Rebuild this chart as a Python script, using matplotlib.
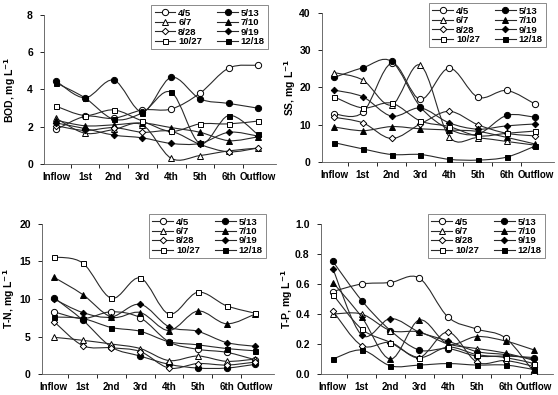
import numpy as np
import matplotlib
matplotlib.use("Agg")
import matplotlib.pyplot as plt
from matplotlib.path import Path
from matplotlib.patches import PathPatch
from matplotlib.lines import Line2D

plt.rcParams["font.family"] = ["Liberation Sans", "DejaVu Sans"]
plt.rcParams["font.weight"] = "bold"

stations = ["Inflow", "1st", "2nd", "3rd", "4th", "5th", "6th", "Outflow"]
dates = ["4/5", "5/13", "6/7", "7/10", "8/28", "9/19", "10/27", "12/18"]

bod = {
    "4/5":   [1.85, 2.55, 2.45, 2.9, 2.95, 3.8, 5.15, 5.3],
    "5/13":  [4.45, 3.55, 4.5, 2.8, 4.65, 3.5, 3.25, 3.0],
    "6/7":   [2.45, 1.65, 1.85, 2.1, 0.3, 0.45, 0.7, 0.85],
    "7/10":  [2.35, 2.05, 2.1, 2.2, 1.95, 1.7, 1.25, 1.45],
    "8/28":  [2.05, 1.8, 1.95, 1.7, 1.75, 1.05, 0.65, 0.85],
    "9/19":  [2.2, 1.9, 1.55, 1.4, 1.1, 1.1, 1.7, 1.5],
    "10/27": [3.1, 2.6, 2.9, 2.3, 1.75, 2.15, 2.15, 2.3],
    "12/18": [4.35, 3.55, 2.4, 2.75, 3.85, 1.1, 2.6, 1.6],
}
ss = {
    "4/5":   [12.9, 13.3, 26.5, 16.8, 25.2, 17.4, 19.2, 15.5],
    "5/13":  [22.7, 25.3, 27.0, 14.8, 8.8, 7.5, 12.5, 12.0],
    "6/7":   [24.0, 22.0, 15.3, 26.0, 6.8, 6.5, 5.5, 4.5],
    "7/10":  [9.4, 8.4, 9.5, 8.9, 8.6, 8.2, 6.6, 4.8],
    "8/28":  [12.0, 10.5, 6.3, 10.2, 13.6, 10.0, 7.7, 7.0],
    "9/19":  [19.3, 17.5, 12.3, 14.5, 10.5, 8.8, 9.7, 10.2],
    "10/27": [17.5, 14.5, 15.8, 11.0, 9.5, 7.0, 7.7, 8.3],
    "12/18": [5.2, 3.5, 2.0, 2.0, 0.7, 0.5, 1.3, 4.3],
}
tn = {
    "4/5":   [8.3, 7.4, 8.3, 7.5, 4.3, 3.3, 2.9, 1.9],
    "5/13":  [10.2, 7.2, 3.6, 2.4, 1.3, 0.8, 0.8, 1.3],
    "6/7":   [4.9, 4.5, 4.0, 3.4, 1.8, 2.4, 1.7, 2.0],
    "7/10":  [12.9, 10.6, 7.6, 8.2, 5.8, 8.4, 6.7, 8.0],
    "8/28":  [7.0, 3.8, 3.5, 3.0, 0.8, 1.4, 1.2, 1.6],
    "9/19":  [10.0, 8.2, 7.6, 9.3, 6.3, 5.7, 4.2, 3.7],
    "10/27": [15.6, 14.8, 10.1, 12.8, 8.0, 10.9, 9.1, 8.1],
    "12/18": [7.6, 7.4, 6.2, 5.7, 4.3, 3.9, 3.4, 3.1],
}
tp = {
    "4/5":   [0.55, 0.60, 0.61, 0.64, 0.38, 0.30, 0.24, 0.01],
    "5/13":  [0.75, 0.49, 0.29, 0.16, 0.17, 0.12, 0.12, 0.11],
    "6/7":   [0.40, 0.40, 0.29, 0.28, 0.20, 0.17, 0.14, 0.09],
    "7/10":  [0.61, 0.38, 0.10, 0.36, 0.20, 0.25, 0.22, 0.16],
    "8/28":  [0.42, 0.19, 0.21, 0.11, 0.28, 0.08, 0.09, 0.05],
    "9/19":  [0.70, 0.26, 0.37, 0.28, 0.22, 0.15, 0.13, 0.10],
    "10/27": [0.53, 0.30, 0.21, 0.11, 0.18, 0.13, 0.11, 0.07],
    "12/18": [0.10, 0.16, 0.055, 0.06, 0.07, 0.06, 0.06, 0.03],
}

# marker, filled
styles = {
    "4/5": ("o", False), "5/13": ("o", True),
    "6/7": ("^", False), "7/10": ("^", True),
    "8/28": ("D", False), "9/19": ("D", True),
    "10/27": ("s", False), "12/18": ("s", True),
}
msize = {"o": 4.5, "^": 4.5, "D": 3.3, "s": 3.6}
line_color = "#2a2a2a"


def smooth_path(x, y):
    # Catmull-Rom style bezier, like a spreadsheet "smoothed line"
    pts = np.column_stack([x, y]).astype(float)
    n = len(pts)
    verts = [pts[0]]
    codes = [Path.MOVETO]
    for i in range(n - 1):
        p0 = pts[i - 1] if i > 0 else pts[i]
        p1 = pts[i]
        p2 = pts[i + 1]
        p3 = pts[i + 2] if i + 2 < n else pts[i + 1]
        c1 = p1 + (p2 - p0) / 6.0
        c2 = p2 - (p3 - p1) / 6.0
        verts += [c1, c2, p2]
        codes += [Path.CURVE4] * 3
    return Path(verts, codes)


def panel(ax, data, ylabel, ymax, ystep, fmt, label_x):
    x = np.arange(len(stations))
    handles = {}
    for d in dates:
        y = data[d]
        ax.add_patch(PathPatch(smooth_path(x, y), fill=False, ec=line_color, lw=0.8, zorder=2))
        m, filled = styles[d]
        ax.plot(x, y, ls="none", marker=m, ms=msize[m], mec="black", mew=0.7,
                mfc="black" if filled else "white", zorder=3)
        handles[d] = Line2D([], [], color=line_color, lw=0.8, marker=m, ms=msize[m],
                            mec="black", mew=0.7, mfc="black" if filled else "white")
    ax.set_xlim(-0.42, 7.65)
    ax.set_ylim(0, ymax)
    yt = np.arange(0, ymax + ystep / 2, ystep)
    ax.set_yticks(yt)
    ax.set_yticklabels([fmt.format(v) for v in yt], fontsize=7.5, fontweight="bold")
    ax.set_xticks(x)
    ax.set_xticklabels(stations, fontsize=7, fontweight="bold")
    ax.set_xticks(np.arange(0.5, 7.0, 1.0), minor=True)
    ax.tick_params(axis="x", which="major", length=0, pad=6)
    ax.tick_params(axis="x", which="minor", length=3, direction="out", width=0.6)
    ax.tick_params(axis="y", length=3, direction="out", width=0.6, pad=5)
    for s in ["top", "right"]:
        ax.spines[s].set_visible(False)
    for s in ["left", "bottom"]:
        ax.spines[s].set_linewidth(0.6)
        ax.spines[s].set_color("#555555")
    ax.set_ylabel(ylabel, fontsize=7.5, fontweight="bold")
    ax.yaxis.set_label_coords(label_x, 0.5)
    order = ["4/5", "6/7", "8/28", "10/27", "5/13", "7/10", "9/19", "12/18"]
    leg = ax.legend([handles[d] for d in order], order, ncol=2, loc="upper right",
                    bbox_to_anchor=(0.965, 1.065), fontsize=6.8, frameon=True,
                    fancybox=False, edgecolor="#555555", handlelength=2.2,
                    handletextpad=0.3, columnspacing=1.6, labelspacing=0.05,
                    borderpad=0.35, borderaxespad=0)
    leg.get_frame().set_linewidth(0.6)
    for t in leg.get_texts():
        t.set_fontweight("bold")


fig = plt.figure(figsize=(5.58, 3.95), dpi=100)
ax1 = fig.add_axes([0.079, 0.585, 0.416, 0.377])
ax2 = fig.add_axes([0.577, 0.590, 0.416, 0.377])
ax3 = fig.add_axes([0.075, 0.053, 0.416, 0.380])
ax4 = fig.add_axes([0.575, 0.053, 0.416, 0.380])

panel(ax1, bod, "BOD, mg L$^{\\mathbf{-1}}$", 8, 2, "{:.0f}", -0.112)
panel(ax2, ss, "SS, mg L$^{\\mathbf{-1}}$", 40, 10, "{:.0f}", -0.105)
panel(ax3, tn, "T-N, mg L$^{\\mathbf{-1}}$", 20, 5, "{:.0f}", -0.105)
panel(ax4, tp, "T-P, mg L$^{\\mathbf{-1}}$", 1.0, 0.2, "{:.1f}", -0.11)

fig.savefig("out.png", dpi=100)
